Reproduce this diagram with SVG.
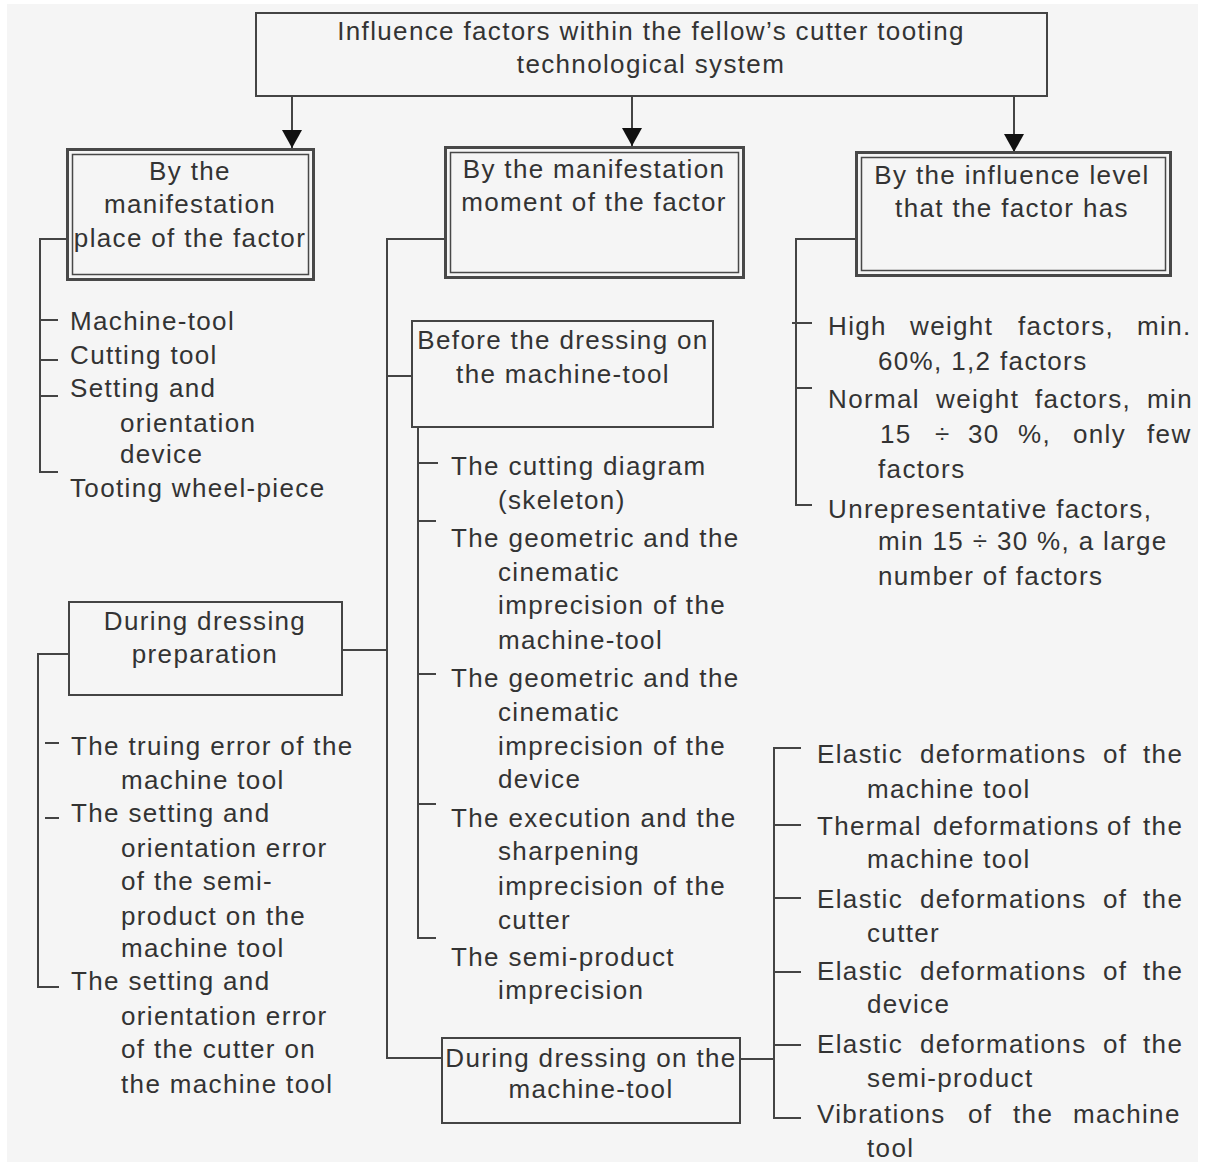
<svg xmlns="http://www.w3.org/2000/svg" width="1205" height="1162" viewBox="0 0 1205 1162">
<style>
  text { font-family: "Liberation Sans", Arial, sans-serif; font-size: 26px; fill: #333; letter-spacing: 1.35px; }
  .c { text-anchor: middle; }
  .box { fill: none; stroke: #444; stroke-width: 2; }
  .outer { fill: none; stroke: #484848; stroke-width: 3; }
  .inner { fill: none; stroke: #484848; stroke-width: 1.5; }
  .ln { fill: none; stroke: #444; stroke-width: 2; }
</style>
<defs>
  <marker id="ah" markerUnits="userSpaceOnUse" viewBox="0 0 18 20" markerWidth="18" markerHeight="20" refX="18" refY="10" orient="auto">
    <path d="M0,0 L18,10 L0,20 z" fill="#111"/>
  </marker>
</defs>
<rect x="0" y="0" width="1205" height="1162" fill="#ffffff"/>
<rect x="7" y="4" width="1191" height="1158" fill="#f5f5f5"/>

<g id="connectors">
  <line class="ln" x1="292" y1="96" x2="292" y2="148" marker-end="url(#ah)"/>
  <line class="ln" x1="632" y1="96" x2="632" y2="146" marker-end="url(#ah)"/>
  <line class="ln" x1="1014" y1="96" x2="1014" y2="152" marker-end="url(#ah)"/>
  <!-- place column -->
  <path class="ln" d="M66,239 H40 V472 H58 M40,320 H58 M40,360 H58 M40,396 H58"/>
  <!-- main trunk -->
  <path class="ln" d="M444,239 H387 V1058 H442 M387,376 H412 M342,650 H387"/>
  <!-- before items -->
  <path class="ln" d="M418,427 V938 H436 M418,463 H438 M418,521 H436 M418,674 H436 M418,804 H436"/>
  <!-- preparation items -->
  <path class="ln" d="M69,654 H38 V987 H59 M45,743 H59 M45,818 H59"/>
  <!-- during items -->
  <path class="ln" d="M740,1059 H774 M801,748 H774 V1118 H801 M774,825 H801 M774,898 H801 M774,972 H801 M774,1045 H801"/>
  <!-- level items -->
  <path class="ln" d="M855,239 H796 V505 H812 M792,323 H812 M796,388 H812"/>
</g>

<g id="root">
  <rect class="box" x="256" y="13" width="791" height="83"/>
  <text class="c" x="651" y="40">Influence factors within the fellow’s cutter tooting</text>
  <text class="c" x="651" y="73">technological system</text>
</g>

<g id="place">
  <rect class="outer" x="67.5" y="149.5" width="246" height="130"/>
  <rect class="inner" x="72.5" y="154.5" width="236" height="120"/>
  <text class="c" x="190" y="180">By the</text>
  <text class="c" x="190" y="213">manifestation</text>
  <text class="c" x="190" y="247">place of the factor</text>
</g>

<g id="place-items">
  <text x="70" y="330">Machine-tool</text>
  <text x="70" y="364">Cutting tool</text>
  <text x="70" y="397">Setting and</text>
  <text x="120" y="432">orientation</text>
  <text x="120" y="463">device</text>
  <text x="70" y="497">Tooting wheel-piece</text>
</g>

<g id="moment">
  <rect class="outer" x="445.5" y="147.5" width="298" height="130"/>
  <rect class="inner" x="450.5" y="152.5" width="288" height="120"/>
  <text class="c" x="594" y="178">By the manifestation</text>
  <text class="c" x="594" y="211">moment of the factor</text>
</g>

<g id="level">
  <rect class="outer" x="856.5" y="152.5" width="314" height="123"/>
  <rect class="inner" x="861.5" y="157.5" width="304" height="113"/>
  <text class="c" x="1012" y="184">By the influence level</text>
  <text class="c" x="1012" y="217">that the factor has</text>
</g>

<g id="level-items">
  <text y="335"><tspan x="828">High</tspan><tspan x="910">weight</tspan><tspan x="1018">factors,</tspan><tspan x="1137">min.</tspan></text>
  <text x="878" y="370">60%, 1,2 factors</text>
  <text y="408"><tspan x="828">Normal</tspan><tspan x="936">weight</tspan><tspan x="1035">factors,</tspan><tspan x="1147">min</tspan></text>
  <text y="443"><tspan x="880">15</tspan><tspan x="935">÷</tspan><tspan x="968">30</tspan><tspan x="1018">%,</tspan><tspan x="1073">only</tspan><tspan x="1147">few</tspan></text>
  <text x="878" y="478">factors</text>
  <text x="828" y="518">Unrepresentative factors,</text>
  <text x="878" y="550">min 15 ÷ 30 %, a large</text>
  <text x="878" y="585">number of factors</text>
</g>

<g id="before">
  <rect class="box" x="412" y="321" width="301" height="106"/>
  <text class="c" x="563" y="349">Before the dressing on</text>
  <text class="c" x="563" y="383">the machine-tool</text>
</g>

<g id="before-items">
  <text x="451" y="475">The cutting diagram</text>
  <text x="498" y="509">(skeleton)</text>
  <text x="451" y="547">The geometric and the</text>
  <text x="498" y="581">cinematic</text>
  <text x="498" y="614">imprecision of the</text>
  <text x="498" y="649">machine-tool</text>
  <text x="451" y="687">The geometric and the</text>
  <text x="498" y="721">cinematic</text>
  <text x="498" y="755">imprecision of the</text>
  <text x="498" y="788">device</text>
  <text x="451" y="827">The execution and the</text>
  <text x="498" y="860">sharpening</text>
  <text x="498" y="895">imprecision of the</text>
  <text x="498" y="929">cutter</text>
  <text x="451" y="966">The semi-product</text>
  <text x="498" y="999">imprecision</text>
</g>

<g id="preparation">
  <rect class="box" x="69" y="602" width="273" height="93"/>
  <text class="c" x="205" y="630">During dressing</text>
  <text class="c" x="205" y="663">preparation</text>
</g>

<g id="preparation-items">
  <text x="71" y="755">The truing error of the</text>
  <text x="121" y="789">machine tool</text>
  <text x="71" y="822">The setting and</text>
  <text x="121" y="857">orientation error</text>
  <text x="121" y="890">of the semi-</text>
  <text x="121" y="925">product on the</text>
  <text x="121" y="957">machine tool</text>
  <text x="71" y="990">The setting and</text>
  <text x="121" y="1025">orientation error</text>
  <text x="121" y="1058">of the cutter on</text>
  <text x="121" y="1093">the machine tool</text>
</g>

<g id="during">
  <rect class="box" x="442" y="1038" width="298" height="85"/>
  <text class="c" x="591" y="1067">During dressing on the</text>
  <text class="c" x="591" y="1098">machine-tool</text>
</g>

<g id="during-items">
  <text y="763"><tspan x="817">Elastic</tspan><tspan x="920">deformations</tspan><tspan x="1103">of</tspan><tspan x="1143">the</tspan></text>
  <text x="867" y="798">machine tool</text>
  <text y="835"><tspan x="817">Thermal</tspan><tspan x="933">deformations</tspan><tspan x="1107">of</tspan><tspan x="1143">the</tspan></text>
  <text x="867" y="868">machine tool</text>
  <text y="908"><tspan x="817">Elastic</tspan><tspan x="920">deformations</tspan><tspan x="1103">of</tspan><tspan x="1143">the</tspan></text>
  <text x="867" y="942">cutter</text>
  <text y="980"><tspan x="817">Elastic</tspan><tspan x="920">deformations</tspan><tspan x="1103">of</tspan><tspan x="1143">the</tspan></text>
  <text x="867" y="1013">device</text>
  <text y="1053"><tspan x="817">Elastic</tspan><tspan x="920">deformations</tspan><tspan x="1103">of</tspan><tspan x="1143">the</tspan></text>
  <text x="867" y="1087">semi-product</text>
  <text y="1123"><tspan x="817">Vibrations</tspan><tspan x="968">of</tspan><tspan x="1013">the</tspan><tspan x="1073">machine</tspan></text>
  <text x="867" y="1157">tool</text>
</g>
</svg>
